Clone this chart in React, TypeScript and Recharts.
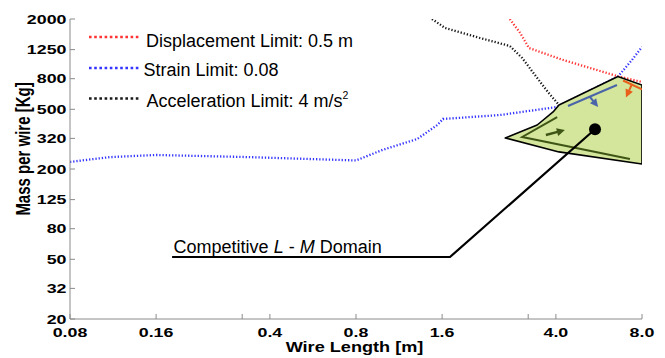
import React from 'react';
import { ComposedChart, Line, Scatter, XAxis, YAxis } from 'recharts';

const FONT = "'Liberation Sans', Arial, Helvetica, sans-serif";

// Axis ticks
const xTicks = [0.08, 0.16, 0.32, 0.4, 0.8, 1.6, 3.2, 4.0, 8.0];
const xTickLabels = ['0.08', '0.16', '', '0.4', '0.8', '1.6', '', '4.0', '8.0'];
const yTicks = [20, 32, 50, 80, 125, 200, 320, 500, 800, 1250, 2000];

// Limit curves (Wire length [m], Mass per wire [Kg])
const displacementLimit = [
  { x: 2.76, y: 2000 }, { x: 3.0, y: 1613 }, { x: 3.22, y: 1281 },
  { x: 4.24, y: 1066 }, { x: 6.59, y: 830 }, { x: 8.0, y: 760 },
];
const strainLimit = [
  { x: 0.08, y: 223 }, { x: 0.11, y: 240 }, { x: 0.16, y: 248 }, { x: 0.34, y: 240 },
  { x: 0.8, y: 228 }, { x: 0.99, y: 268 }, { x: 1.31, y: 317 }, { x: 1.54, y: 393 },
  { x: 1.61, y: 431 }, { x: 2.55, y: 458 }, { x: 4.03, y: 518 }, { x: 6.59, y: 826 },
  { x: 7.38, y: 1066 }, { x: 8.0, y: 1302 },
];
const accelerationLimit = [
  { x: 1.475, y: 2000 }, { x: 1.64, y: 1742 }, { x: 2.17, y: 1494 }, { x: 2.76, y: 1322 },
  { x: 3.05, y: 1099 }, { x: 3.38, y: 846 }, { x: 3.75, y: 652 }, { x: 4.1, y: 534 },
];

// Competitive domain polygon
const domainPolygon = [
  { x: 2.66, y: 322 }, { x: 3.44, y: 393 }, { x: 3.91, y: 480 }, { x: 4.1, y: 534 },
  { x: 6.59, y: 828 }, { x: 8.0, y: 726 }, { x: 8.0, y: 216 }, { x: 4.1, y: 260 },
];

// Boundary hints inside the domain
const strainBoundary = [{ x: 4.41, y: 526 }, { x: 6.54, y: 726 }];
const strainArrow = [{ x: 5.26, y: 604 }, { x: 5.62, y: 518 }];
const displacementBoundary = [{ x: 6.87, y: 778 }, { x: 8.0, y: 678 }];
const displacementArrow = [{ x: 7.38, y: 737 }, { x: 7.03, y: 600 }];
const accelerationBoundary = [{ x: 4.04, y: 444 }, { x: 3.05, y: 327 }, { x: 7.26, y: 233 }];
const accelerationArrow = [{ x: 3.69, y: 337 }, { x: 4.3, y: 364 }];

// Design point and callout
const designPoint = [{ x: 5.48, y: 368 }];
const calloutLine = [{ x: 5.48, y: 368 }, { x: 1.705, y: 51.8 }, { x: 0.182, y: 51.8 }];

const legendNames = ['Displacement Limit: 0.5 m', 'Strain Limit: 0.08', 'Acceleration Limit: 4 m/s'];
const legendSup = ['', '', '2'];
const legendColors = ['#ff3333', '#3535ff', '#1a1a1a'];

const COLORS = {
  displacement: '#ff3333',
  strain: '#3535ff',
  acceleration: '#1a1a1a',
  fill: '#d3e69b',
  blueHint: '#4a64aa',
  orangeHint: '#e8601c',
  oliveHint: '#3f5516',
  frame: '#8a8a8a',
};

type P = { x: number; y: number };
const toPath = (pts: P[], close = false) =>
  pts.map((p, i) => `${i ? 'L' : 'M'}${p.x},${p.y}`).join(' ') + (close ? ' Z' : '');

const polygonLine = (props: any) => (
  <path d={toPath(props.points || [], true)} fill={COLORS.fill} stroke="#000" strokeWidth={1.6} strokeLinejoin="round" />
);

const makePolyline = (color: string, width: number) => (props: any) => (
  <path d={toPath(props.points || [])} fill="none" stroke={color} strokeWidth={width} strokeLinejoin="miter" />
);

const makeArrow = (color: string, width: number, head: number) => (props: any) => {
  const pts: P[] = props.points || [];
  if (pts.length < 2) return <g />;
  const a = pts[pts.length - 2];
  const b = pts[pts.length - 1];
  const ang = Math.atan2(b.y - a.y, b.x - a.x);
  const w = head * 0.5;
  const bx = b.x - head * Math.cos(ang);
  const by = b.y - head * Math.sin(ang);
  const p1 = `${bx + w * Math.sin(ang)},${by - w * Math.cos(ang)}`;
  const p2 = `${bx - w * Math.sin(ang)},${by + w * Math.cos(ang)}`;
  return (
    <g>
      <path d={`M${a.x},${a.y} L${bx + 0.5 * Math.cos(ang)},${by + 0.5 * Math.sin(ang)}`} stroke={color} strokeWidth={width} fill="none" />
      <polygon points={`${b.x},${b.y} ${p1} ${p2}`} fill={color} />
    </g>
  );
};

const calloutShape = (props: any) => {
  const pts: P[] = props.points || [];
  if (pts.length < 3) return <g />;
  const end = pts[pts.length - 1];
  return (
    <g>
      <path d={toPath(pts)} fill="none" stroke="#000" strokeWidth={2.2} />
      <text x={end.x + 1.5} y={end.y - 4.5} fontFamily={FONT} fontSize={18} fill="#000">
        Competitive <tspan fontStyle="italic">L</tspan> - <tspan fontStyle="italic">M</tspan> Domain
      </text>
    </g>
  );
};

const hidden = () => <g />;

const XTick = (props: any) => {
  const { x, y, payload } = props;
  const i = xTicks.indexOf(payload.value);
  const label = i >= 0 ? xTickLabels[i] : '';
  if (!label) return <g />;
  return (
    <text transform={`translate(${x},${y + 17.5}) scale(1.32,1)`} textAnchor="middle" fontFamily={FONT} fontWeight="bold" fontSize={13.5} fill="#000">
      {label}
    </text>
  );
};

const YTick = (props: any) => {
  const { x, y, payload } = props;
  return (
    <text transform={`translate(${x},${y + 4.8}) scale(1.32,1)`} textAnchor="end" fontFamily={FONT} fontWeight="bold" fontSize={13.5} fill="#000">
      {payload.value}
    </text>
  );
};

const XTitle = (props: any) => {
  const vb = props.viewBox || { x: 70, y: 319, width: 572, height: 39 };
  return (
    <text transform={`translate(${vb.x + vb.width / 2 - 1.5},${vb.y + 33}) scale(1.25,1)`} textAnchor="middle" fontFamily={FONT} fontWeight="bold" fontSize={14.5} fill="#000">
      Wire Length [m]
    </text>
  );
};

const YTitle = (props: any) => {
  const vb = props.viewBox || { x: 0, y: 19, width: 70, height: 300 };
  return (
    <text transform={`translate(${vb.x + 23},${vb.y + 130}) rotate(-90) scale(1,1.32)`} textAnchor="middle" dominantBaseline="central" fontFamily={FONT} fontWeight="bold" fontSize={15} fill="#000">
      Mass per wire [Kg]
    </text>
  );
};

const dotted = { strokeWidth: 2.3, strokeDasharray: '1.3 1.9' };

export default function App() {
  return (
    <div style={{ position: 'absolute', left: 0, top: 0, width: 665, height: 358, background: '#fff' }}>
      <ComposedChart width={665} height={358} margin={{ top: 19, right: 23, bottom: 0, left: 0 }}>
        <XAxis
          xAxisId={0}
          type="number"
          dataKey="x"
          scale="log"
          domain={[0.08, 8]}
          allowDataOverflow
          ticks={xTicks}
          interval={0}
          height={39}
          tickSize={-5}
          tickMargin={5}
          tick={<XTick />}
          axisLine={{ stroke: COLORS.frame }}
          tickLine={{ stroke: COLORS.frame }}
          label={<XTitle />}
        />
        <XAxis
          xAxisId="top"
          orientation="top"
          type="number"
          dataKey="x"
          scale="log"
          domain={[0.08, 8]}
          allowDataOverflow
          ticks={xTicks}
          interval={0}
          height={0}
          tickSize={-5}
          tick={false}
          axisLine={{ stroke: COLORS.frame }}
          tickLine={{ stroke: COLORS.frame }}
        />
        <YAxis
          yAxisId={0}
          type="number"
          dataKey="y"
          scale="log"
          domain={[20, 2000]}
          allowDataOverflow
          ticks={yTicks}
          interval={0}
          width={70}
          tickSize={-5}
          tickMargin={8.5}
          tick={<YTick />}
          axisLine={{ stroke: COLORS.frame }}
          tickLine={{ stroke: COLORS.frame }}
          label={<YTitle />}
        />
        <YAxis
          yAxisId="right"
          orientation="right"
          type="number"
          dataKey="y"
          scale="log"
          domain={[20, 2000]}
          allowDataOverflow
          ticks={yTicks}
          interval={0}
          width={0}
          tickSize={-5}
          tick={false}
          axisLine={{ stroke: COLORS.frame }}
          tickLine={{ stroke: COLORS.frame }}
        />

        <Line data={strainLimit} dataKey="y" type="linear" stroke={COLORS.strain} {...dotted} dot={false} activeDot={false} isAnimationActive={false} />
        <Line data={displacementLimit} dataKey="y" type="linear" stroke={COLORS.displacement} {...dotted} dot={false} activeDot={false} isAnimationActive={false} />
        <Line data={accelerationLimit} dataKey="y" type="linear" stroke={COLORS.acceleration} {...dotted} dot={false} activeDot={false} isAnimationActive={false} />

        <Scatter data={domainPolygon} line={polygonLine} lineType="joint" shape={hidden} isAnimationActive={false} />
        <Scatter data={strainBoundary} line={makePolyline(COLORS.blueHint, 2)} lineType="joint" shape={hidden} isAnimationActive={false} />
        <Scatter data={strainArrow} line={makeArrow(COLORS.blueHint, 2, 8)} lineType="joint" shape={hidden} isAnimationActive={false} />
        <Scatter data={displacementBoundary} line={makePolyline(COLORS.orangeHint, 2)} lineType="joint" shape={hidden} isAnimationActive={false} />
        <Scatter data={displacementArrow} line={makeArrow(COLORS.orangeHint, 2, 8)} lineType="joint" shape={hidden} isAnimationActive={false} />
        <Scatter data={accelerationBoundary} line={makePolyline(COLORS.oliveHint, 2)} lineType="joint" shape={hidden} isAnimationActive={false} />
        <Scatter data={accelerationArrow} line={makeArrow(COLORS.oliveHint, 2.5, 8)} lineType="joint" shape={hidden} isAnimationActive={false} />
        <Scatter data={calloutLine} line={calloutShape} lineType="joint" shape={hidden} isAnimationActive={false} />
        <Scatter
          data={designPoint}
          shape={(p: any) => <circle cx={p.cx} cy={p.cy} r={6} fill="#000" />}
          isAnimationActive={false}
        />
      </ComposedChart>

      <svg width={665} height={358} style={{ position: 'absolute', left: 0, top: 0, pointerEvents: 'none' }}>
        {legendNames.map((name, i) => {
          const lineY = [37, 68, 98.5][i];
          const textX = [146, 143.5, 146.5][i];
          const baseY = [46.7, 76.3, 106.8][i];
          return (
            <g key={name}>
              <line x1={89} y1={lineY} x2={140} y2={lineY} stroke={legendColors[i]} strokeWidth={2.6} strokeDasharray="2.6 2.6" />
              <text x={textX} y={baseY} fontFamily={FONT} fontSize={18} fill="#000">
                {name}
                {legendSup[i] ? (
                  <tspan fontSize={10.5} dy={-8}>{legendSup[i]}</tspan>
                ) : null}
              </text>
            </g>
          );
        })}
      </svg>
    </div>
  );
}
